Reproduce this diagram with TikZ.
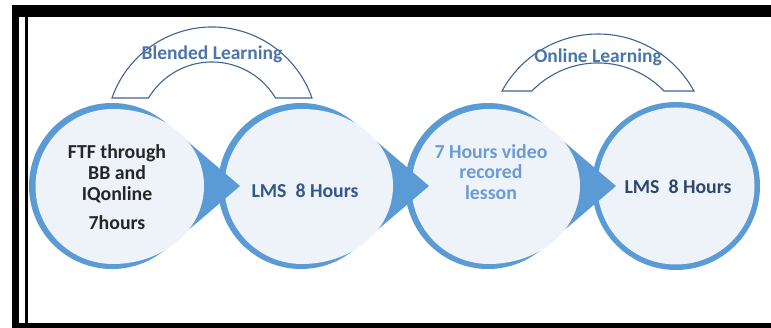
\documentclass[tikz,border=0pt]{standalone}
\usepackage{fontspec}
\setmainfont{Carlito}
\definecolor{ringblue}{RGB}{91,155,213}
\definecolor{lightfill}{RGB}{238,243,250}
\definecolor{archline}{RGB}{62,100,145}
\definecolor{archtext}{RGB}{74,118,170}
\definecolor{txtdark}{RGB}{38,38,38}
\definecolor{txtblue}{RGB}{52,88,138}
\definecolor{txtlight}{RGB}{106,155,211}
\definecolor{txtnavy}{RGB}{47,72,104}
\tikzset{
  archshape/.style={fill=white, draw=archline, line width=1.1pt},
  stagetext/.style={font=\bfseries\fontsize{19.8}{20.8}\selectfont, align=center, inner sep=0pt},
  archlabel/.style={font=\bfseries\fontsize{19.5}{20}\selectfont, text=archtext, inner sep=0pt},
  pics/stage/.style={code={
    \fill[ringblue] (53.8,63.2) arc[start angle=49.6, end angle=310.4, radius=83pt] -- (128,0) -- cycle;
    \fill[lightfill] (1,77) arc[start angle=90, end angle=270, radius=77.5pt]
      .. controls (50,-78) and (92,-45) .. (92,0)
      .. controls (92,45) and (50,77) .. (1,77) -- cycle;
  }}
}
\begin{document}
\begin{tikzpicture}[x=1pt,y=1pt]
\useasboundingbox (0,0) rectangle (771,328);
\fill[white] (0,0) rectangle (771,328);
% frame
\fill[black] (12,311) rectangle (771,323);
\fill[black] (12,0) rectangle (19,323);
\fill[black] (25,5) rectangle (28,311);
\fill[black] (12,0) rectangle (771,5);
% last circle
\fill[ringblue] (676,142) circle[radius=84pt];
\fill[lightfill] (676,142) circle[radius=78.5pt];
% teardrop stages, right to left
\pic at (488,142) {stage};
\pic at (301,142) {stage};
\pic at (112,142) {stage};
% arches
\draw[archshape] (112,230) arc[start angle=160.76, end angle=19.24, radius=105.9pt]
  -- (275.5,230) arc[start angle=30.9, end angle=149.1, radius=74pt] -- cycle;
\draw[archshape] (502,237) arc[start angle=151.4, end angle=28.6, radius=109.3pt]
  -- (664,237) arc[start angle=44, end angle=136, radius=91.8pt] -- cycle;
% labels
\node[archlabel] (blended) at (212,274) {Blended Learning};
\node[archlabel] (online) at (598,271) {Online Learning};
\node[stagetext, text=txtdark] (ftf) at (117,141) {FTF through\\BB and\\IQonline\\[8pt]7hours};
\node[stagetext, text=txtblue] (lmsa) at (305,137) {LMS~~8 Hours};
\node[stagetext, text=txtlight] (video) at (491,156) {7 Hours video\\recored\\lesson};
\node[stagetext, text=txtnavy] (lmsb) at (678,141) {LMS~~8 Hours};
\end{tikzpicture}
\end{document}
